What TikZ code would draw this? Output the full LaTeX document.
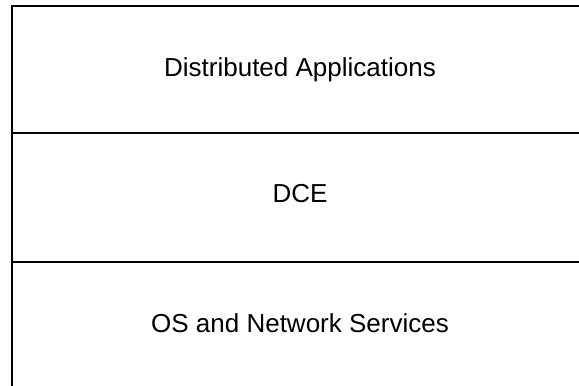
\documentclass[tikz,border=0pt]{standalone}
\usepackage{fontspec}
\setmainfont{Liberation Sans}
\usetikzlibrary{positioning}
\tikzstyle{layerline} = [line width=2pt, draw=black]
\tikzstyle{layertext} = [font=\fontsize{26}{31}\selectfont, anchor=base,
    inner sep=0pt]

\begin{document}
\begin{tikzpicture}[x=1pt, y=1pt]
    \useasboundingbox (0,0) rectangle (579,386);
    % frame corners and layer borders
    \coordinate (topright) at (579,380);
    \coordinate (topleft) at (12,380);
    \coordinate (botleft) at (12,0);
    \coordinate (midAleft) at (12,253);
    \coordinate (midAright) at (579,253);
    \coordinate (midBleft) at (12,124);
    \coordinate (midBright) at (579,124);
    \draw[layerline] (topright) -- (topleft) -- (botleft);
    \draw[layerline] (midAleft) -- (midAright);
    \draw[layerline] (midBleft) -- (midBright);
    % layer names
    \node[layertext] (apps) at (300,309) {Distributed Applications};
    \node[layertext] (dce) at (300,183) {DCE};
    \node[layertext] (os) at (300,53) {OS and Network Services};
\end{tikzpicture}
\end{document}
